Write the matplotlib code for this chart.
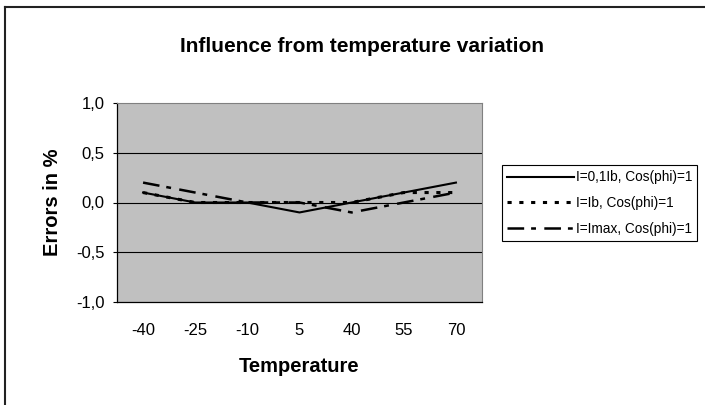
import matplotlib
matplotlib.use("Agg")
import matplotlib.pyplot as plt
from matplotlib.lines import Line2D

plt.rcParams['font.family'] = ['Liberation Sans', 'DejaVu Sans']
plt.rcParams['lines.scale_dashes'] = False

temperatures = ["-40", "-25", "-10", "5", "40", "55", "70"]
series_01ib = [0.1, 0.0, 0.0, -0.1, 0.0, 0.1, 0.2]
series_ib = [0.1, 0.0, 0.0, 0.0, 0.0, 0.1, 0.1]
series_imax = [0.2, 0.1, 0.0, 0.0, -0.1, 0.0, 0.1]
labels = ["I=0,1Ib, Cos(phi)=1", "I=Ib, Cos(phi)=1", "I=Imax, Cos(phi)=1"]
yticks = [-1.0, -0.5, 0.0, 0.5, 1.0]
ytick_labels = ["-1,0", "-0,5", "0,0", "0,5", "1,0"]

W, H = 705, 405
fig = plt.figure(figsize=(W / 100, H / 100), dpi=100)
ax = fig.add_axes([117 / W, 1 - 302 / H, (482 - 117) / W, (302 - 103) / H])
ax.set_facecolor('#C0C0C0')

x = list(range(len(temperatures)))
ax.plot(x, series_01ib, color='black', lw=1.5, linestyle='-', label=labels[0], zorder=3)
ax.plot(x, series_ib, color='black', lw=2.2, linestyle=(0, (3.0, 5.5)), label=labels[1], zorder=3)
ax.plot(x, series_imax, color='black', lw=1.8, linestyle=(0, (12, 5, 3.5, 6)), label=labels[2], zorder=3)

ax.set_xlim(-0.5, len(temperatures) - 0.5)
ax.set_ylim(-1.0, 1.0)
ax.set_yticks(yticks)
ax.set_yticklabels(ytick_labels)
ax.set_xticks(x)
ax.set_xticklabels(temperatures)
for yv in [-0.5, 0.0, 0.5]:
    ax.axhline(yv, color='black', lw=0.8, zorder=1)

ax.tick_params(axis='y', direction='out', length=3, width=0.8, pad=6, labelsize=12)
ax.tick_params(axis='x', length=0, pad=15, labelsize=12)

ax.spines['left'].set_color('black')
ax.spines['bottom'].set_color('black')
ax.spines['left'].set_linewidth(0.9)
ax.spines['bottom'].set_linewidth(0.9)
ax.spines['top'].set_color('#808080')
ax.spines['right'].set_color('#808080')

ax.set_xlabel("Temperature", fontsize=14.5, fontweight='bold', labelpad=14)
ax.set_ylabel("Errors in %", fontsize=14.5, fontweight='bold', labelpad=10)

fig.text(362 / W, 1 - 46 / H, "Influence from temperature variation",
         fontsize=15, fontweight='bold', ha='center', va='center')

handles, lbls = ax.get_legend_handles_labels()
leg = fig.legend(handles, lbls, loc='upper left', bbox_to_anchor=(502 / W, 1 - 165 / H),
                 fontsize=9.8, frameon=True, fancybox=False, edgecolor='black',
                 handlelength=4.9, handletextpad=0.1, borderpad=0.4,
                 labelspacing=0.85, borderaxespad=0, framealpha=1)
leg.get_frame().set_linewidth(0.8)

# outer chart frame
fig.add_artist(Line2D([4.5 / W, 4.5 / W], [0, 1 - 6.5 / H], transform=fig.transFigure,
                      color='#222222', lw=1.5))
fig.add_artist(Line2D([4.5 / W, 1], [1 - 6.5 / H, 1 - 6.5 / H], transform=fig.transFigure,
                      color='#222222', lw=1.5))

fig.savefig("out.png", dpi=100, facecolor='white')
